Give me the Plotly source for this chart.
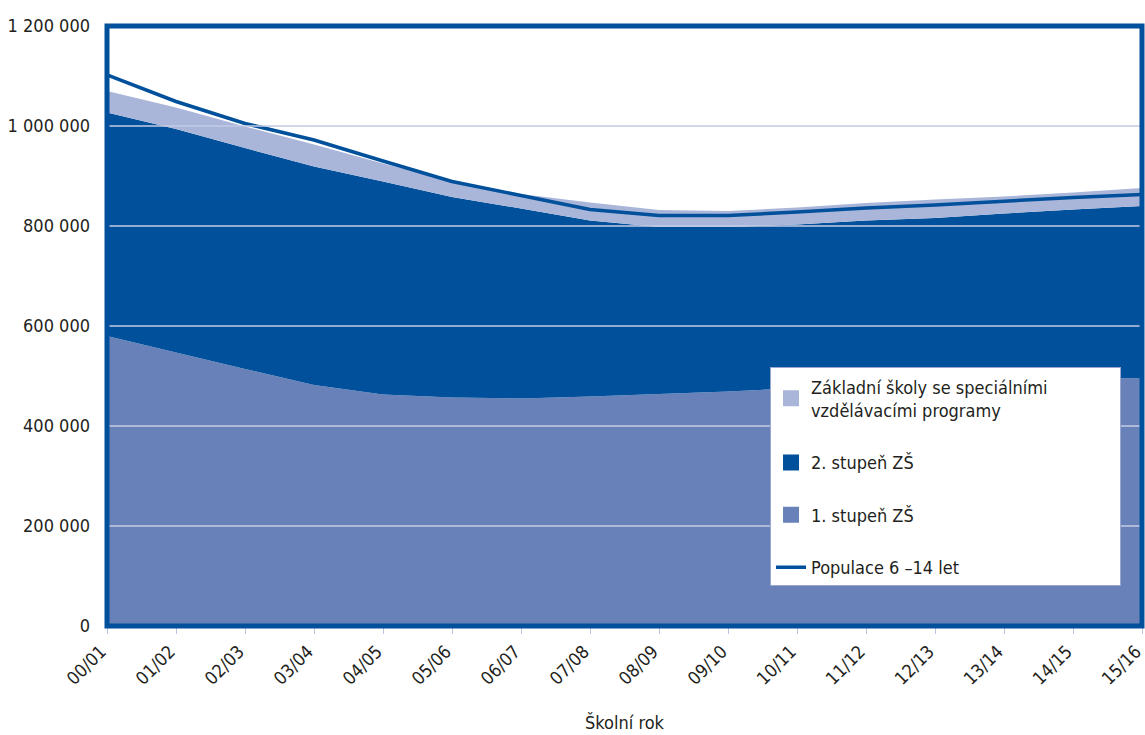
import plotly.graph_objects as go

# ---- data ----
years = ["00/01", "01/02", "02/03", "03/04", "04/05", "05/06", "06/07", "07/08",
         "08/09", "09/10", "10/11", "11/12", "12/13", "13/14", "14/15", "15/16"]

stage1 = [580000, 547000, 514000, 482000, 463000, 457000, 455000, 459000,
          464000, 469000, 476000, 482000, 487000, 491000, 494000, 496000]
stage2 = [447000, 447000, 442000, 437000, 426000, 401000, 380000, 352000,
          334000, 329000, 327000, 329000, 329000, 334000, 339000, 344000]
special = [43000, 43000, 43000, 44000, 36000, 31000, 29000, 36000,
           34000, 32000, 34000, 35000, 37000, 34000, 34000, 36000]
population = [1102000, 1049000, 1005000, 972000, 930000, 889000, 861000, 833000,
              821000, 821000, 828000, 836000, 842000, 850000, 857000, 863000]

y_ticks = [0, 200000, 400000, 600000, 800000, 1000000, 1200000]
y_tick_labels = ["0", "200 000", "400 000", "600 000", "800 000", "1 000 000", "1 200 000"]

names = ["Základní školy se speciálními" + "&nbsp;" * 13 + "<br>vzdělávacími programy",
         "2. stupeň ZŠ", "1. stupeň ZŠ", "Populace 6 –14 let"]

# ---- styles ----
C_LIGHT = "#a9b6d9"
C_DARK = "#00509b"
C_MED = "#6882b9"
GRID = "#c3cbe4"
TEXT = "#231f20"
FONT = "Liberation Sans Narrow, DejaVu Sans Condensed, sans-serif"
FS = 18

fig = go.Figure()

# stacked areas
for vals, col in [(stage1, C_MED), (stage2, C_DARK), (special, C_LIGHT)]:
    fig.add_trace(go.Scatter(x=years, y=vals, stackgroup="pupils", mode="none",
                             fillcolor=col, showlegend=False, hoverinfo="skip"))

# population line
fig.add_trace(go.Scatter(x=years, y=population, mode="lines",
                         line=dict(color=C_DARK, width=3.5), name=names[3],
                         legendgroup="d", legendrank=4, hoverinfo="skip"))

# legend entries for areas (square symbols)
for nm, col, grp, rk in [(names[0], C_LIGHT, "a", 1), (names[1], C_DARK, "b", 2),
                         (names[2], C_MED, "c", 3)]:
    fig.add_trace(go.Scatter(x=[None], y=[None], mode="markers",
                             marker=dict(symbol="square", size=22, color=col),
                             name=nm, legendgroup=grp, legendrank=rk, hoverinfo="skip"))

# gridlines above the areas
for v in y_ticks[1:-1]:
    fig.add_shape(type="line", xref="x domain", x0=0, x1=1, yref="y", y0=v, y1=v,
                  line=dict(color=GRID, width=1.5), layer="above")

# frame around the plot area
fig.add_shape(type="rect", xref="paper", yref="paper", x0=0, x1=1, y0=0, y1=1,
              line=dict(color=C_DARK, width=5), layer="above")

fig.update_layout(
    width=1145, height=735,
    margin=dict(l=107, r=3, t=26, b=109),
    paper_bgcolor="white", plot_bgcolor="white",
    font=dict(family=FONT, size=FS, color=TEXT),
    hovermode=False,
    legend=dict(x=0.6406, y=0.431, xanchor="left", yanchor="top",
                bgcolor="white", bordercolor="#9aa8cf", borderwidth=1,
                traceorder="grouped", tracegroupgap=26, itemwidth=30,
                font=dict(family=FONT, size=FS, color=TEXT),
                itemsizing="trace"),
    xaxis=dict(type="category", range=[0, 15], tickangle=-45, automargin=False,
               ticks="outside", ticklen=7, tickwidth=1, tickcolor="#b9c3e2",
               showgrid=False, zeroline=False, showline=False,
               ticklabelshift=-6,
               tickfont=dict(family=FONT, size=FS, color=TEXT),
               title=dict(text="Školní rok", font=dict(family=FONT, size=FS, color=TEXT),
                          standoff=28)),
    yaxis=dict(range=[0, 1200000], tickvals=y_ticks, ticktext=y_tick_labels,
               automargin=False,
               showgrid=False, zeroline=False, showline=False, ticks="",
               ticklabelstandoff=16,
               tickfont=dict(family=FONT, size=FS, color=TEXT)),
)

fig.write_html("out.html",
               config={"displayModeBar": False},
               post_script="document.body.style.margin='0';"
                           "document.body.style.overflow='hidden';")
